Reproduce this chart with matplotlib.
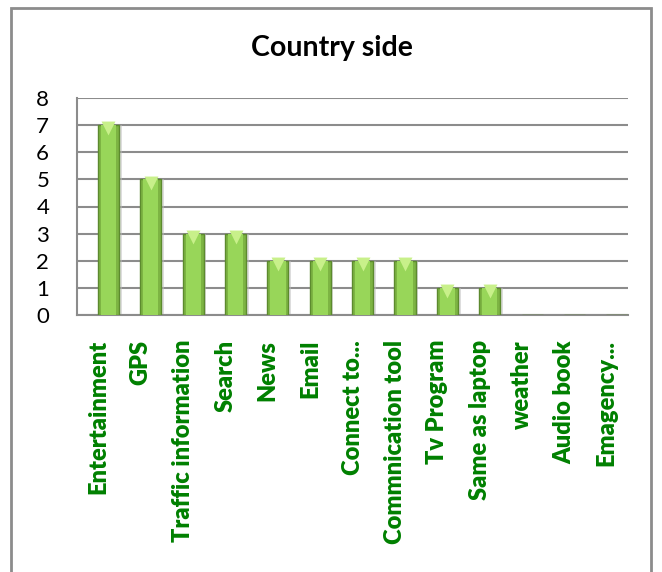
import numpy as np
import matplotlib.pyplot as plt
from matplotlib.patches import Rectangle

categories = ["Entertainment", "GPS", "Traffic information", "Search", "News",
              "Email", "Connect to...", "Commnication tool", "Tv Program",
              "Same as laptop", "weather", "Audio book", "Emagency..."]
values = [7, 5, 3, 3, 2, 2, 2, 2, 1, 1, 0, 0, 0]
yticks = [0, 1, 2, 3, 4, 5, 6, 7, 8]

plt.rcParams['font.family'] = ['Lato', 'DejaVu Sans']

fig = plt.figure(figsize=(6.62, 5.72), dpi=100)
ax = fig.add_axes([77/662, 1-315/572, 551/662, 217/572])

# outer chart frame
fig.patches.append(Rectangle((11/662, -0.05), 640/662, 1.05 - 8/572,
                             transform=fig.transFigure, fill=False,
                             edgecolor='#8c8c8c', lw=2))

x = np.arange(len(categories))
off = 0.24
vals = np.array(values)
# shadow, body, highlight
ax.bar(x + off + 0.06, vals, width=0.5, color='#bdbdbd', alpha=0.5, zorder=2)
ax.bar(x + off, vals, width=0.5, color='#7db443', edgecolor='#5c8a2e', lw=1, zorder=3)
ax.bar(x + off, vals, width=0.36, color='#98d659', zorder=4)
shown = vals > 0
ax.scatter((x + off)[shown], vals[shown] - 0.12, marker='v', s=100,
           color='#c8f08a', zorder=5, linewidths=0)

ax.set_xlim(-0.5, len(categories) - 0.5)
ax.set_ylim(0, 8)
ax.set_yticks(yticks)
ax.set_yticklabels([str(v) for v in yticks], fontsize=16)
ax.yaxis.grid(True, color='#8c8c8c', lw=1.5)
ax.set_axisbelow(True)
ax.tick_params(axis='y', length=0, pad=20)
ax.set_xticks(x)
ax.set_xticklabels(categories, rotation=90, fontsize=17, fontweight='heavy',
                   color='#008000', va='top', ha='center')
ax.tick_params(axis='x', length=0, pad=18)
for s in ['top', 'right']:
    ax.spines[s].set_visible(False)
ax.spines['left'].set_color('#8c8c8c')
ax.spines['bottom'].set_color('#8c8c8c')
ax.spines['left'].set_linewidth(1.5)
ax.spines['bottom'].set_linewidth(1.5)

fig.text(332/662, 1-48/572, "Country side", ha='center', va='center',
         fontsize=20.5, fontweight='bold')

fig.savefig("out.png", dpi=100)
